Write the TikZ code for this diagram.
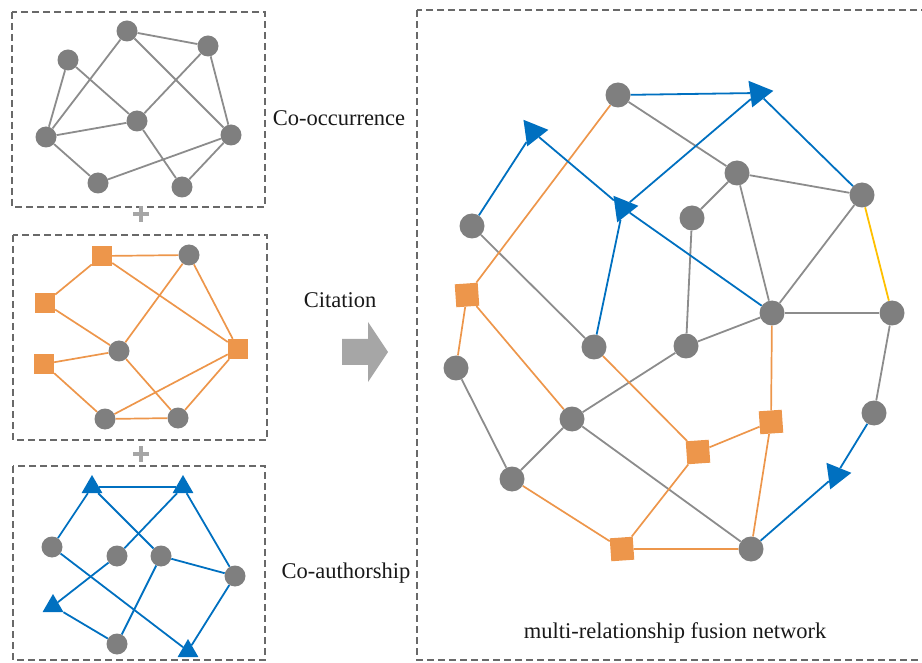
\documentclass[tikz,border=0pt]{standalone}
\usepackage{fontspec}
\setmainfont{Liberation Serif}
\usetikzlibrary{shapes.geometric}

\definecolor{nodegray}{RGB}{127,127,127}
\definecolor{linegray}{RGB}{140,140,140}
\definecolor{citeorange}{RGB}{237,150,75}
\definecolor{authblue}{RGB}{0,112,192}
\definecolor{linkyellow}{RGB}{255,192,0}
\definecolor{boxgray}{RGB}{105,105,105}
\definecolor{arrowgray}{RGB}{166,166,166}

\tikzset{
  paper/.style={circle,fill=nodegray,inner sep=0pt,minimum size=21pt},
  bigpaper/.style={paper,minimum size=25pt},
  journal/.style={rectangle,fill=citeorange,inner sep=0pt,minimum size=20pt},
  bigjournal/.style={journal,minimum size=23pt,rotate=4},
  author/.style={regular polygon,regular polygon sides=3,fill=authblue,inner sep=0pt,minimum size=24pt},
  bigauthor/.style={author,minimum size=31pt,shape border rotate=-82},
  occ/.style={draw=linegray,line width=1.8pt},
  cite/.style={draw=citeorange,line width=1.7pt},
  coauth/.style={draw=authblue,line width=1.8pt},
  mixed/.style={draw=linkyellow,line width=1.8pt},
  panel/.style={draw=boxgray,line width=1.6pt,dash pattern=on 7pt off 4pt},
  caption/.style={font=\fontsize{22.5}{26}\selectfont,text=black!90,inner sep=0pt}
}

\begin{document}
\begin{tikzpicture}[x=1pt,y=-1pt]
  \useasboundingbox (0,0) rectangle (922,663);

  % Panels
  \draw[panel] (12,12) rectangle (265,207);
  \draw[panel] (13,235) rectangle (267,440);
  \draw[panel] (13,466) rectangle (265,660);
  \draw[panel] (417,10) rectangle (930,660);

  % Plus signs and big arrow
  \draw[arrowgray,line width=3.5pt] (133,214) -- (149,214) (141,206) -- (141,222);
  \draw[arrowgray,line width=3.5pt] (133,454) -- (149,454) (141,446) -- (141,462);
  \fill[arrowgray] (342,339) -- (368,339) -- (368,322) -- (388,352) -- (368,382) -- (368,365) -- (342,365) -- cycle;

  % Labels
  \node[caption] (occlabel) at (339,118) {Co-occurrence};
  \node[caption] (citelabel) at (340,300) {Citation};
  \node[caption] (authlabel) at (346,573) {Co-authorship};
  \node[caption] (fuselabel) at (675,633) {multi-relationship fusion network};

  % Nodes: co-occurrence
  \node[paper] (o1) at (127,31) {};
  \node[paper] (o2) at (68,60) {};
  \node[paper] (o3) at (208,46) {};
  \node[paper] (o4) at (137,121) {};
  \node[paper] (o5) at (46,137) {};
  \node[paper] (o6) at (231,135) {};
  \node[paper] (o7) at (98,183) {};
  \node[paper] (o8) at (182,187) {};

  % Nodes: citation
  \node[journal] (c1) at (102,256) {};
  \node[paper] (c2) at (189,255) {};
  \node[journal] (c3) at (45,303) {};
  \node[paper] (c4) at (119,351) {};
  \node[journal] (c5) at (44,364) {};
  \node[journal] (c6) at (238,349) {};
  \node[paper] (c7) at (105,419) {};
  \node[paper] (c8) at (178,418) {};

  % Nodes: co-authorship
  \node[author] (a1) at (92,487) {};
  \node[author] (a2) at (183,487) {};
  \node[paper] (a3) at (52,547) {};
  \node[paper] (a4) at (117,556) {};
  \node[paper] (a5) at (161,556) {};
  \node[paper] (a6) at (235,576) {};
  \node[author] (a7) at (53,606) {};
  \node[paper] (a8) at (117,644) {};
  \node[author] (a9) at (188,651) {};

  % Nodes: fusion network
  \node[bigpaper] (fa) at (618,95) {};
  \node[bigauthor] (ta1) at (758,93) {};
  \node[bigauthor] (ta2) at (533,132) {};
  \node[bigpaper] (fb) at (737,173) {};
  \node[bigpaper] (fd) at (862,195) {};
  \node[bigauthor] (ta3) at (623,208) {};
  \node[bigpaper] (fe) at (472,226) {};
  \node[bigpaper] (ff) at (692,218) {};
  \node[bigjournal] (fj1) at (467,295) {};
  \node[bigpaper] (fg) at (772,313) {};
  \node[bigpaper] (fh) at (892,313) {};
  \node[bigpaper] (fi) at (594,347) {};
  \node[bigpaper] (fk) at (686,346) {};
  \node[bigpaper] (fl) at (456,368) {};
  \node[bigpaper] (fm) at (572,419) {};
  \node[bigjournal] (fj2) at (698,452) {};
  \node[bigjournal] (fj3) at (771,422) {};
  \node[bigpaper] (fn) at (874,413) {};
  \node[bigauthor] (ta4) at (836,475) {};
  \node[bigpaper] (fo) at (512,479) {};
  \node[bigjournal] (fj4) at (622,549) {};
  \node[bigpaper] (fp) at (751,549) {};

  % Links: co-occurrence
  \draw[occ] (o1) to (o3);
  \draw[occ] (o1) to (o5);
  \draw[occ] (o1) to (o6);
  \draw[occ] (o2) to (o5);
  \draw[occ] (o2) to (o4);
  \draw[occ] (o3) to (o4);
  \draw[occ] (o3) to (o6);
  \draw[occ] (o5) to (o4);
  \draw[occ] (o5) to (o7);
  \draw[occ] (o7) to (o6);
  \draw[occ] (o4) to (o8);
  \draw[occ] (o8) to (o6);

  % Links: citation
  \draw[cite] (c1) to (c2);
  \draw[cite] (c1) to (c3);
  \draw[cite] (c1) to (c6);
  \draw[cite] (c2) to (c4);
  \draw[cite] (c2) to (c6);
  \draw[cite] (c3) to (c4);
  \draw[cite] (c5) to (c4);
  \draw[cite] (c5) to (c7);
  \draw[cite] (c4) to (c8);
  \draw[cite] (c7) to (c8);
  \draw[cite] (c7) to (c6);
  \draw[cite] (c8) to (c6);

  % Links: co-authorship
  \draw[coauth] (a1) to (a2);
  \draw[coauth] (a1) to (a3);
  \draw[coauth] (a1) to (a5);
  \draw[coauth] (a2) to (a4);
  \draw[coauth] (a2) to (a6);
  \draw[coauth] (a3) to (a9);
  \draw[coauth] (a4) to (a7);
  \draw[coauth] (a7) to (a8);
  \draw[coauth] (a8) to (a5);
  \draw[coauth] (a5) to (a6);
  \draw[coauth] (a6) to (a9);

  % Links: fusion network
  \draw[occ] (fa) to (fb);
  \draw[occ] (fb) to (fd);
  \draw[occ] (fb) to (ff);
  \draw[occ] (fb) to (fg);
  \draw[occ] (fd) to (fg);
  \draw[occ] (fg) to (fh);
  \draw[occ] (fg) to (fk);
  \draw[occ] (fk) to (ff);
  \draw[occ] (fk) to (fm);
  \draw[occ] (fe) to (fi);
  \draw[occ] (fl) to (fo);
  \draw[occ] (fo) to (fm);
  \draw[occ] (fm) to (fp);
  \draw[occ] (fh) to (fn);
  \draw[mixed] (fd) to (fh);

  \draw[cite] (fa) to (fj1);
  \draw[cite] (fj1) to (fl);
  \draw[cite] (fj1) to (fm);
  \draw[cite] (fi) to (fj2);
  \draw[cite] (fj2) to (fj3);
  \draw[cite] (fj3) to (fg);
  \draw[cite] (fj3) to (fp);
  \draw[cite] (fj2) to (fj4);
  \draw[cite] (fo) to (fj4);
  \draw[cite] (fj4) to (fp);

  \draw[coauth] (fa) to (ta1);
  \draw[coauth] (ta1) to (fd);
  \draw[coauth] (ta3) to (ta1);
  \draw[coauth] (fe) to (ta2);
  \draw[coauth] (ta3) to (ta2);
  \draw[coauth] (fg) to (ta3);
  \draw[coauth] (fi) to (ta3);
  \draw[coauth] (fp) to (ta4);
  \draw[coauth] (fn) to (ta4);
\end{tikzpicture}
\end{document}
